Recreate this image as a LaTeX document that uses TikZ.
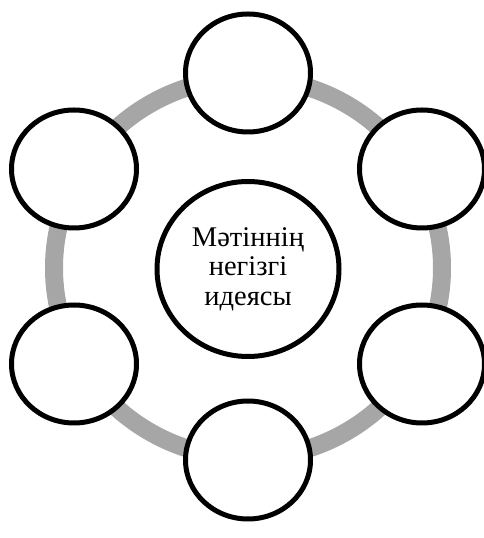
\documentclass[tikz,border=0pt]{standalone}
\usepackage{fontspec}
\setmainfont{Liberation Serif}
\usepackage{tikz}
\usetikzlibrary{shapes.geometric}
\definecolor{ringgray}{HTML}{A6A6A6}
\tikzstyle{bubble}=[ellipse, draw=black, line width=5pt, fill=white, minimum width=125pt, minimum height=118pt, inner sep=0pt]
\tikzset{idea/.style={bubble, minimum width=182pt, minimum height=175pt, align=center, font=\fontsize{28.5}{29.5}\selectfont}}

\begin{document}
\begin{tikzpicture}[x=1pt, y=1pt]
    \useasboundingbox (0,0) rectangle (483,538);
    \draw[ringgray, line width=18pt] (248,270) ellipse (194 and 190);
    \node[idea] (main) at (248,269) {Мәтіннің\\негізгі\\идеясы};
    \node[bubble] (top) at (248,465) {};
    \node[bubble] (upright) at (422,369) {};
    \node[bubble] (downright) at (422,174) {};
    \node[bubble] (bottom) at (248,78) {};
    \node[bubble] (downleft) at (74,174) {};
    \node[bubble] (upleft) at (74,369) {};
  \end{tikzpicture}
\end{document}
